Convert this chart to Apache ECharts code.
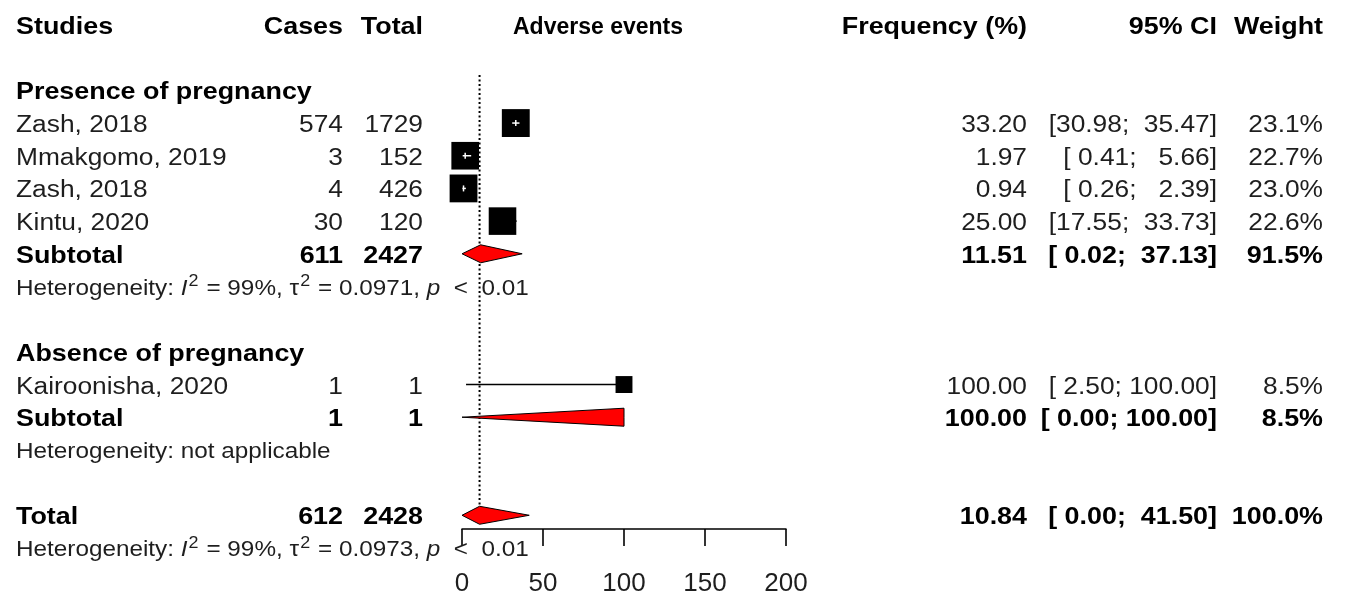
<!DOCTYPE html>
<html>
<head>
<meta charset="utf-8">
<title>Adverse events – forest plot</title>
<script src="https://cdn.jsdelivr.net/npm/echarts@6/dist/echarts.min.js"></script>
<style>
  html, body { margin: 0; padding: 0; background: #ffffff; }
  #chart { width: 1346px; height: 597px; }
</style>
</head>
<body>
<div id="chart"></div>
<script>
// ---------- data ----------
const studyNames   = ['Zash, 2018', 'Mmakgomo, 2019', 'Zash, 2018', 'Kintu, 2020', 'Kairoonisha, 2020'];
const studyCases   = [574, 3, 4, 30, 1];
const studyTotals  = [1729, 152, 426, 120, 1];
const studyFreq    = [33.20, 1.97, 0.94, 25.00, 100.00];
const studyLow     = [30.98, 0.41, 0.26, 17.55, 2.50];
const studyHigh    = [35.47, 5.66, 2.39, 33.73, 100.00];
const studyWeight  = [23.1, 22.7, 23.0, 22.6, 8.5];
const studyRow     = [3, 4, 5, 6, 11];

const groupNames   = ['Presence of pregnancy', 'Absence of pregnancy'];
const groupRow     = [2, 10];

const pooledNames  = ['Subtotal', 'Subtotal', 'Total'];
const pooledCases  = [611, 1, 612];
const pooledTotals = [2427, 1, 2428];
const pooledFreq   = [11.51, 100.00, 10.84];
const pooledLow    = [0.02, 0.00, 0.00];
const pooledHigh   = [37.13, 100.00, 41.50];
const pooledWeight = [91.5, 8.5, 100.0];
const pooledRow    = [7, 12, 15];

const hetI2        = ['99%', null, '99%'];
const hetTau2      = ['0.0971', null, '0.0973'];
const hetP         = ['0.01', null, '0.01'];
const hetRow       = [8, 13, 16];

const headerLabels = ['Studies', 'Cases', 'Total', 'Adverse events', 'Frequency (%)', '95% CI', 'Weight'];
const xTicks       = [0, 50, 100, 150, 200];

// ---------- layout ----------
const FONT = '"Liberation Sans", Arial, Helvetica, sans-serif';
const STRETCH = 1.12;          // horizontal text stretch
const BODY_SIZE = 23.5;
const BOLD_SIZE = 24;
const HET_SIZE = 21.7;
const TEXT_DY = 2.5;           // baseline nudge for table text
const SQUARE_K = 5.8;          // square side = K * sqrt(weight)
const DIAMOND_H = 9;           // half-height of pooled diamonds
const cols = {
  study:  { x: 16,   align: 'left'   },
  cases:  { x: 343,  align: 'right'  },
  total:  { x: 423,  align: 'right'  },
  smlab:  { x: 598,  align: 'center' },
  freq:   { x: 1027, align: 'right'  },
  ci:     { x: 1217, align: 'right'  },
  weight: { x: 1323, align: 'right'  }
};

// ---------- formatting ----------
function padLeft(s, n) { while (s.length < n) s = ' ' + s; return s; }
function fmtCI(lo, hi) { return '[' + padLeft(lo.toFixed(2), 5) + '; ' + padLeft(hi.toFixed(2), 6) + ']'; }
function fmtW(w) { return w.toFixed(1) + '%'; }

// ---------- table rows ----------
const textRows = [];
textRows.push({ row: 0, bold: true, cells: [
  { col: 'study', text: headerLabels[0] },
  { col: 'cases', text: headerLabels[1] },
  { col: 'total', text: headerLabels[2] },
  { col: 'smlab', text: headerLabels[3], size: 23, sx: 1.0, dy: 0.5 },
  { col: 'freq',  text: headerLabels[4] },
  { col: 'ci',    text: headerLabels[5] },
  { col: 'weight',text: headerLabels[6] }
]});
groupNames.forEach((g, i) => textRows.push({ row: groupRow[i], bold: true, cells: [{ col: 'study', text: g }] }));
studyNames.forEach((n, i) => textRows.push({ row: studyRow[i], bold: false, cells: [
  { col: 'study', text: n },
  { col: 'cases', text: String(studyCases[i]) },
  { col: 'total', text: String(studyTotals[i]) },
  { col: 'freq',  text: studyFreq[i].toFixed(2) },
  { col: 'ci',    text: fmtCI(studyLow[i], studyHigh[i]) },
  { col: 'weight',text: fmtW(studyWeight[i]) }
]}));
pooledNames.forEach((n, i) => textRows.push({ row: pooledRow[i], bold: true, cells: [
  { col: 'study', text: n },
  { col: 'cases', text: String(pooledCases[i]) },
  { col: 'total', text: String(pooledTotals[i]) },
  { col: 'freq',  text: pooledFreq[i].toFixed(2) },
  { col: 'ci',    text: fmtCI(pooledLow[i], pooledHigh[i]) },
  { col: 'weight',text: fmtW(pooledWeight[i]) }
]}));
hetRow.forEach((r, i) => {
  const txt = hetI2[i] === null
    ? 'Heterogeneity: not applicable'
    : 'Heterogeneity: {it|I}{sup|2} = ' + hetI2[i] + ', τ{sup|2} = ' + hetTau2[i] + ', {it|p}  <  ' + hetP[i];
  textRows.push({ row: r, bold: false, het: true, cells: [{ col: 'study', text: txt }] });
});

const hetRich = {
  it:  { fontFamily: FONT, fontSize: HET_SIZE, fontStyle: 'italic', fill: '#1e1e1e', lineHeight: 30 },
  sup: { fontFamily: FONT, fontSize: 16, fill: '#1e1e1e', lineHeight: 15, verticalAlign: 'top', padding: [0, 1, 0, 1] }
};

// ---------- chart ----------
const chart = echarts.init(document.getElementById('chart'), null, { renderer: 'canvas' });

const option = {
  backgroundColor: '#ffffff',
  animation: false,
  grid: { left: 462, top: 25, width: 324, height: 505 },
  xAxis: {
    type: 'value', min: 0, max: 200, interval: 50,
    axisLine: { show: true, onZero: false, lineStyle: { color: '#000', width: 1.5 } },
    axisTick: { show: true, length: 17, lineStyle: { color: '#000', width: 1.6 } },
    axisLabel: {
      fontFamily: FONT, fontSize: 26, color: '#1e1e1e', margin: 42,
      customValues: xTicks
    },
    splitLine: { show: false }
  },
  yAxis: { type: 'value', min: 0, max: 15.42, inverse: true, show: false },
  series: [
    // dotted line at the overall estimate
    {
      type: 'line', z: 1, silent: true, symbol: 'none',
      data: [[pooledFreq[2], 1.53], [pooledFreq[2], 15.2]],
      lineStyle: { color: '#000', width: 2, type: [2, 2.5] }
    },
    // study confidence intervals and weight squares
    {
      type: 'custom', z: 3, clip: false, silent: true,
      data: studyNames.map((_, i) => [studyFreq[i], studyRow[i], studyLow[i], studyHigh[i], studyWeight[i]]),
      renderItem: function (params, api) {
        const c = api.coord([api.value(0), api.value(1)]);
        const lo = api.coord([api.value(2), api.value(1)])[0];
        const hi = api.coord([api.value(3), api.value(1)])[0];
        const s = SQUARE_K * Math.sqrt(api.value(4));
        const inside = lo >= c[0] - s / 2 && hi <= c[0] + s / 2;
        const children = [
          { type: 'line', shape: { x1: lo, y1: c[1], x2: hi, y2: c[1] }, style: { stroke: '#000', lineWidth: 1.5 } },
          { type: 'rect', shape: { x: c[0] - s / 2, y: c[1] - s / 2, width: s, height: s }, style: { fill: '#000' } }
        ];
        if (inside) {
          children.push({ type: 'line', shape: { x1: lo, y1: c[1], x2: hi, y2: c[1] }, style: { stroke: '#fff', lineWidth: 1.5 } });
          children.push({ type: 'line', shape: { x1: c[0], y1: c[1] - 3, x2: c[0], y2: c[1] + 3 }, style: { stroke: '#fff', lineWidth: 1.5 } });
        }
        return { type: 'group', children: children };
      }
    },
    // pooled diamonds
    {
      type: 'custom', z: 4, clip: false, silent: true,
      data: pooledNames.map((_, i) => [pooledFreq[i], pooledRow[i], pooledLow[i], pooledHigh[i]]),
      renderItem: function (params, api) {
        const c = api.coord([api.value(0), api.value(1)]);
        const lo = api.coord([api.value(2), api.value(1)])[0];
        const hi = api.coord([api.value(3), api.value(1)])[0];
        return {
          type: 'polygon',
          shape: { points: [[lo, c[1]], [c[0], c[1] - DIAMOND_H], [hi, c[1]], [c[0], c[1] + DIAMOND_H]] },
          style: { fill: '#ff0000', stroke: '#000', lineWidth: 1 }
        };
      }
    },
    // table text
    {
      type: 'custom', z: 5, clip: false, silent: true,
      data: textRows.map(r => [0, r.row]),
      renderItem: function (params, api) {
        const r = textRows[params.dataIndex];
        const y = api.coord([0, r.row])[1];
        const children = r.cells.map(c => {
          const size = c.size || (r.het ? HET_SIZE : (r.bold ? BOLD_SIZE : BODY_SIZE));
          const style = {
            text: c.text, x: 0, y: 0,
            align: cols[c.col].align, verticalAlign: 'middle',
            fontFamily: FONT, fontSize: size,
            fontWeight: r.bold ? 'bold' : 'normal',
            fill: r.bold ? '#000' : '#1e1e1e'
          };
          if (r.het) { style.rich = hetRich; style.lineHeight = 30; }
          return {
            type: 'text',
            x: cols[c.col].x, y: y + TEXT_DY + (c.dy || 0),
            scaleX: c.sx !== undefined ? c.sx : STRETCH,
            style: style
          };
        });
        return { type: 'group', children: children };
      }
    }
  ]
};

chart.setOption(option);
</script>
</body>
</html>
